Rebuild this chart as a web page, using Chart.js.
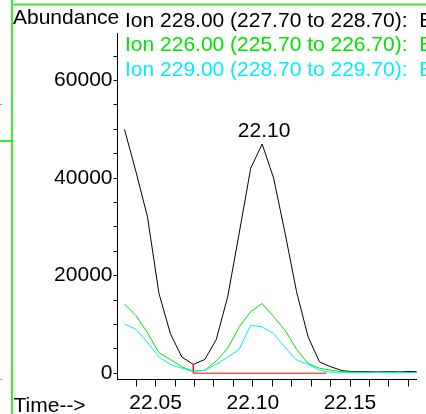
<!DOCTYPE html>
<html>
<head>
<meta charset="utf-8">
<script src="https://cdn.jsdelivr.net/npm/chart.js@4.4.1/dist/chart.umd.min.js"></script>
<style>
  html, body { margin: 0; padding: 0; background: #ffffff; overflow: hidden; }
  canvas { display: block; }
</style>
</head>
<body>
<canvas id="c" width="426" height="414"></canvas>
<script>
// ---- data ----
const scanTimes = [22.0340, 22.0399, 22.0458, 22.0517, 22.0576, 22.0635, 22.0694, 22.0753, 22.0812,
                   22.0871, 22.0930, 22.0989, 22.1048, 22.1107, 22.1166, 22.1225, 22.1284, 22.1343,
                   22.1402, 22.1461, 22.1520, 22.1579, 22.1638, 22.1697, 22.1756, 22.1815, 22.1874];
const ion228 = [50000, 41300, 32100, 16400, 8100, 3300, 1800, 2800, 6900, 15700, 28700, 42000, 47000,
                40000, 28700, 16700, 7500, 2300, 1300, 500, 300, 300, 250, 300, 250, 350, 200];
const ion226 = [14200, 11800, 8300, 4200, 2800, 1300, 400, 600, 2500, 5100, 9500, 12600, 14300,
                11600, 8800, 4900, 2000, 1000, 600, 300, 200, 150, 150, 200, 100, 150, 100];
const ion229 = [10100, 9000, 6300, 3300, 1800, 1000, 300, 600, 1800, 3300, 4900, 9800, 9500,
                8100, 5300, 2700, 1800, 600, 200, 150, 100, 100, 150, 100, 100, 120, 100];
const baselineTimes = [22.0694, 22.0694, 22.138];
const baselineValues = [1800, 0, 0];
const peakTime = 22.1048;
const peakValue = 47000;
const peakLabel = "22.10";
const xTickValues = [22.04, 22.05, 22.06, 22.07, 22.08, 22.09, 22.10, 22.11, 22.12, 22.13, 22.14, 22.15, 22.16, 22.17, 22.18];
const xTickLabels = ["22.05", "22.10", "22.15"];
const yTickValues = [0, 5000, 10000, 15000, 20000, 25000, 30000, 35000, 40000, 45000, 50000, 55000, 60000, 65000];
const yTickLabels = ["0", "20000", "40000", "60000"];
const seriesNames = ["Ion 228.00 (227.70 to 228.70):  E",
                     "Ion 226.00 (225.70 to 226.70):  E",
                     "Ion 229.00 (228.70 to 229.70):  E"];
const yAxisTitle = "Abundance";
const xAxisTitle = "Time-->";

// ---- styles ----
const FONT = "'Liberation Sans', Arial, sans-serif";
const FSIZE = 21;
const C_BLACK = "#000000";
const C_GREEN = "#00e400";
const C_CYAN = "#00eeff";
const C_RED = "#ff0000";
const C_FRAME = "#33ee33";

function pts(xs, ys) { return xs.map((x, i) => ({ x: x, y: ys[i] })); }

const overlay = {
  id: "overlay",
  afterDraw(chart) {
    const ctx = chart.ctx;
    const xs = chart.scales.x, ys = chart.scales.y;
    ctx.save();
    ctx.fillStyle = C_FRAME;
    ctx.fillRect(11, 0, 2, 414);
    ctx.fillRect(11, 3.5, 415, 2);
    ctx.fillRect(0, 140, 11, 2);
    ctx.fillStyle = "#999999";
    ctx.fillRect(0, 104, 2, 1);
    ctx.fillRect(0, 379, 2, 1);
    ctx.font = FSIZE + "px " + FONT;
    ctx.textAlign = "left";
    ctx.textBaseline = "alphabetic";
    ctx.fillStyle = C_BLACK;
    ctx.fillText(yAxisTitle, 13, 24);
    ctx.fillText(seriesNames[0], 125, 27);
    ctx.fillStyle = C_GREEN;
    ctx.fillText(seriesNames[1], 125, 50.5);
    ctx.fillStyle = C_CYAN;
    ctx.fillText(seriesNames[2], 125, 76);
    ctx.fillStyle = C_BLACK;
    ctx.fillText(xAxisTitle, 13.5, 411.5);
    const px = xs.getPixelForValue(peakTime);
    const py = ys.getPixelForValue(peakValue);
    ctx.textAlign = "center";
    ctx.fillText(peakLabel, px + 2, py - 7);
    ctx.restore();
  }
};

const lineDs = (label, data, color) => ({
  label: label, data: data, borderColor: color, borderWidth: 1,
  pointRadius: 0, fill: false, tension: 0, showLine: true
});

new Chart(document.getElementById("c"), {
  type: "scatter",
  data: {
    datasets: [
      lineDs("ion229", pts(scanTimes, ion229), C_CYAN),
      lineDs("ion226", pts(scanTimes, ion226), C_GREEN),
      lineDs("baseline", pts(baselineTimes, baselineValues), C_RED),
      lineDs("ion228", pts(scanTimes, ion228), C_BLACK)
    ]
  },
  options: {
    responsive: false,
    animation: false,
    devicePixelRatio: 1,
    layout: { padding: { left: 0, right: 9.3, top: 33.3, bottom: 0 } },
    plugins: { legend: { display: false }, tooltip: { enabled: false }, title: { display: false } },
    scales: {
      x: {
        type: "linear",
        min: 22.0304, max: 22.1843,
        afterFit(scale) { scale.height = 34.5; },
        afterBuildTicks(scale) { scale.ticks = xTickValues.map(v => ({ value: v })); },
        border: { display: true, color: C_BLACK, width: 1 },
        grid: { display: true, drawOnChartArea: false, drawTicks: true, tickLength: 7, color: C_BLACK, tickColor: C_BLACK },
        ticks: {
          autoSkip: false, maxRotation: 0, minRotation: 0,
          padding: 4, color: C_BLACK, font: { family: FONT, size: FSIZE },
          callback(v) { const s = Number(v).toFixed(2); return xTickLabels.includes(s) ? s : ""; }
        }
      },
      y: {
        type: "linear",
        min: -1300, max: 69700,
        afterFit(scale) { scale.width = 117.5; },
        afterBuildTicks(scale) { scale.ticks = yTickValues.map(v => ({ value: v })); },
        border: { display: true, color: C_BLACK, width: 1 },
        grid: { display: true, drawOnChartArea: false, drawTicks: true, tickLength: 4, color: C_BLACK, tickColor: C_BLACK },
        ticks: {
          autoSkip: false,
          padding: 1, color: C_BLACK, font: { family: FONT, size: FSIZE },
          callback(v) { const s = String(Math.round(v)); return yTickLabels.includes(s) ? s : ""; }
        }
      }
    }
  },
  plugins: [overlay]
});
</script>
</body>
</html>
